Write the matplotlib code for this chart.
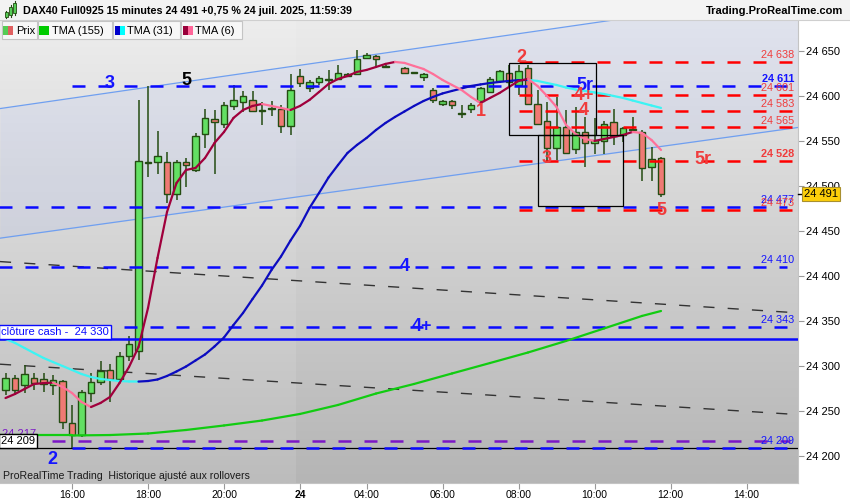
import numpy as np
import matplotlib
matplotlib.use('Agg')
import matplotlib.pyplot as plt
import matplotlib.transforms as mtransforms
from matplotlib.collections import LineCollection
from matplotlib.patches import Rectangle
from matplotlib.colors import LinearSegmentedColormap

plt.rcParams['font.family'] = ['Liberation Sans', 'DejaVu Sans']

# candles are numbered from the 16:00 bar, first visible one is -7
first_bar = -7
opens = [24273, 24287, 24279, 24287, 24286, 24279, 24283, 24237, 24223, 24270,
         24282, 24295, 24285, 24311, 24317, 24526, 24527, 24527, 24491, 24527,
         24518, 24558, 24574, 24569, 24589, 24593, 24596, 24584, 24586, 24585,
         24567, 24622, 24609, 24615, 24618.5, 24618.5, 24624, 24624, 24642, 24644.5,
         24632.5, np.nan, 24631, 24626, 24621, 24607, 24591, 24594.5, 24580, 24585,
         24594, 24604, 24617, 24626, 24612, 24631, 24591, 24572, 24542, 24565,
         24541, 24560.5, 24548, 24550.5, 24571, 24556.5, 24562, 24560.5, 24521.5, 24531]
highs = [24292, 24290, 24301, 24292, 24292, 24290, 24284, 24257, 24273, 24292,
         24305, 24302, 24316, 24333, 24595, 24611, 24561, 24538, 24529, 24531,
         24559, 24585, 24584, 24593, 24612, 24605, 24605, 24593, 24594, 24590,
         24624, 24630, 24618, 24622, 24629, 24634, 24626, 24651, 24648, 24645.5,
         24634, np.nan, 24632, 24626.5, 24625, 24608.5, 24595.5, 24595, 24590, 24592,
         24610.5, 24621.5, 24629, 24634.5, 24634.5, 24634.5, 24606.5, 24593.5, 24599, 24584.5,
         24588, 24577, 24575, 24572.5, 24585, 24566, 24576.5, 24562, 24543.5, 24532]
lows = [24268, 24268, 24270, 24273, 24271, 24268, 24230, 24209, 24221, 24260,
        24279, 24260, 24283, 24306, 24307, 24510, 24513, 24481, 24484, 24499,
        24516, 24542, 24513, 24564, 24584, 24582, 24582, 24568, 24578, 24559,
        24557, 24610, 24604, 24612, 24607, 24618, 24621, 24623, 24641, 24633,
        24631, np.nan, 24624, 24625.5, 24617, 24592.5, 24589, 24585, 24575, 24581.5,
        24592, 24603, 24614, 24608.5, 24601, 24590, 24569, 24527, 24529, 24536,
        24535.5, 24521, 24536, 24536, 24545.5, 24549, 24559, 24505, 24505, 24488]
closes = [24287, 24273, 24291, 24281, 24280, 24284, 24238, 24223, 24271, 24282,
          24294, 24285, 24311, 24324, 24528, 24527, 24533, 24491, 24527, 24523,
          24556, 24575, 24571, 24590, 24596, 24600, 24583, 24583, 24587, 24567,
          24607, 24614, 24615, 24620, 24618, 24626, 24622, 24641, 24645.5, 24641,
          24632, np.nan, 24625, 24626, 24624, 24596, 24594.5, 24590, 24580.5, 24590,
          24608.5, 24618.5, 24628, 24616, 24628, 24591, 24569, 24542.5, 24566, 24537,
          24560.5, 24547.5, 24551, 24569, 24555.5, 24564, 24562.5, 24520, 24529.5, 24491]

tma6 = [24264.4, 24268.9, 24274.4, 24280.0, 24281.0, 24281.5, 24276.7, 24270.0, 24260.0, 24254.4,
        24258.9, 24265.6, 24281.1, 24298.9, 24321.1, 24364.4, 24420.0, 24471.1, 24503.3, 24517.8,
        24520.0, 24531.1, 24547.8, 24560.0, 24575.6, 24584.4, 24588.9, 24591.1, 24588.9, 24586.7,
        24584.4, 24588.9, 24595.6, 24604.4, 24613.3, 24618.9, 24622.2, 24626.7, 24628.9, 24632.2,
        24635.6, 24637.8, 24636.7, 24633.3, 24630.0, 24624.4, 24617.8, 24612.2, 24606.7, 24598.9,
        24592.2, 24597.8, 24603.3, 24610.0, 24616.7, 24618.9, 24611.1, 24600.0, 24587.8, 24567.8,
        24557.8, 24552.2, 24550.0, 24552.2, 24554.4, 24556.7, 24560.0, 24558.9, 24551.1, 24540.0]
tma31 = [24330.0, 24325.6, 24320.0, 24314.4, 24308.9, 24304.4, 24300.0, 24295.6, 24291.1, 24287.8,
         24285.6, 24284.4, 24283.3, 24282.8, 24282.7, 24283.3, 24285.0, 24288.9, 24293.9, 24299.4,
         24306.1, 24312.8, 24321.7, 24331.7, 24345.6, 24358.9, 24374.4, 24389.4, 24406.7, 24421.7,
         24439.4, 24455.6, 24475.6, 24492.2, 24509.4, 24523.3, 24536.7, 24545.6, 24553.3, 24562.2,
         24570.0, 24576.7, 24582.8, 24588.9, 24594.4, 24598.9, 24602.8, 24605.6, 24608.3, 24611.1,
         24612.8, 24614.4, 24615.6, 24616.7, 24617.6, 24617.8, 24616.7, 24614.4, 24612.2, 24609.4,
         24607.2, 24605.6, 24603.9, 24602.2, 24600.0, 24597.8, 24595.0, 24592.2, 24589.4, 24586.7]
tma155_bars = [-8, 0, 4, 8, 12, 16, 20, 24, 28, 32, 36, 40, 44, 48, 52, 56, 60, 62]
tma155 = [24222.8, 24222.8, 24223.3, 24225.0, 24228.9, 24233.9, 24239.4, 24246.7, 24256.7,
          24269.4, 24280.0, 24291.7, 24303.3, 24315.0, 24327.8, 24341.7, 24355.6, 24361.1]

tick_bars = [0, 8, 16, 24, 31, 39, 47, 55, 63, 71]
tick_labels = ['16:00', '18:00', '20:00', '24', '04:00', '06:00', '08:00', '10:00', '12:00', '14:00']
price_ticks = [24200, 24250, 24300, 24350, 24400, 24450, 24500, 24550, 24600, 24650]

# drawn levels
blue_levels = [24611, 24477, 24410, 24343, 24209]
blue_starts = [0, -8, -8, 5.5, 0]
red_levels = [24638, 24601, 24583, 24565, 24528, 24473]
red_start = 47
cash_close = 24330
day_low = 24209
purple_level = 24217
last_price = 24491

# trend lines: price at left and right edge of the chart
channel_up = [24586, 24714]
channel_low = [24442, 24565]
black_up = [24416, 24359]
black_low = [24302, 24246]

level_labels = [('24 638', 24638, '#f03c3c', 'normal'), ('24 611', 24611, '#1414ff', 'bold'),
                ('24 601', 24601, '#f03c3c', 'normal'), ('24 583', 24583, '#f03c3c', 'normal'),
                ('24 565', 24565, '#f03c3c', 'normal'), ('24 528', 24528, '#f03c3c', 'bold'),
                ('24 477', 24477, '#1414ff', 'normal'), ('24 473', 24473, '#f03c3c', 'normal'),
                ('24 410', 24410, '#1414ff', 'normal'), ('24 343', 24343, '#1414ff', 'normal'),
                ('24 209', 24209, '#1414ff', 'normal')]

marks = [('3', 4, 24614, '#1414ff'), ('5', 12, 24617, 'black'), ('2', 47.3, 24643, '#f03c3c'),
         ('1', 43, 24583, '#f03c3c'), ('5r', 54, 24612, '#1414ff'), ('4+', 53.9, 24601, '#f03c3c'),
         ('4', 53.9, 24584, '#f03c3c'), ('3', 50, 24530, '#f03c3c'), ('5r', 66.4, 24529, '#f03c3c'),
         ('5', 62, 24473, '#f03c3c'), ('4', 35, 24411, '#1414ff'), ('4+', 36.8, 24344, '#1414ff'),
         ('2', -2.1, 24196, '#1414ff')]

boxes = [(46.0, 55.16, 24556.7, 24636.7), (49.05, 58.0, 24477.8, 24556.7)]

W, H = 850, 500
def fx(x):
    return x / W
def fy(y):
    return 1 - y / H

fig = plt.figure(figsize=(8.5, 5), dpi=100, facecolor='white')
ax = fig.add_axes([0, fy(483), fx(798), (483 - 20) / H])
x_min, x_max = -7.58, 76.42
y_min, y_max = 24170, 24684.4
ax.set_xlim(x_min, x_max)
ax.set_ylim(y_min, y_max)

grad = np.linspace(0, 1, 256).reshape(-1, 1)
cmap = LinearSegmentedColormap.from_list('bg', ['#b5b5b5', '#ebebeb'])
ax.imshow(grad, extent=[x_min, x_max, y_min, y_max], origin='lower', aspect='auto', cmap=cmap, zorder=0)
ax.axvspan(x_min, 23.6, color='white', alpha=0.1, lw=0, zorder=0.5)

ax.fill_between([x_min, x_max], channel_up, channel_low, color='#a0b4ff', alpha=0.14, lw=0, zorder=1)
ax.plot([x_min, x_max], channel_up, color='#6f9ff0', lw=0.9, zorder=1.5)
ax.plot([x_min, x_max], channel_low, color='#6f9ff0', lw=0.9, zorder=1.5)
for line in (black_up, black_low):
    ax.plot([x_min, x_max], line, color='#333333', lw=1.0, dashes=(8, 9.5), zorder=2)

# candles
bars = np.arange(len(opens)) + first_bar
o = np.array(opens, float)
h = np.array(highs, float)
l = np.array(lows, float)
c = np.array(closes, float)
ok = ~np.isnan(o)
edge = '#244c12'
ax.vlines(bars[ok], l[ok], h[ok], color=edge, lw=1.1, zorder=3)
body_colors = np.where(c[ok] >= o[ok], '#63e063', '#ef7a74')
ax.bar(bars[ok], np.maximum(np.abs(c[ok] - o[ok]), 0.8), bottom=np.minimum(o[ok], c[ok]),
       width=0.7, color=body_colors, edgecolor=edge, linewidth=1.0, zorder=4)

# horizontal levels
line_end = 75.3
dash = (5.2, 5.2)
for lvl, start in zip(blue_levels, blue_starts):
    ax.plot([start, line_end], [lvl, lvl], color='#0a0aff', lw=1.8, dashes=dash, zorder=5)
for lvl in red_levels:
    ax.plot([red_start, 75.9], [lvl, lvl], color='#ff0000', lw=1.8, dashes=dash, zorder=5)
ax.plot([-2.1, 75.6], [purple_level, purple_level], color='#7b16c6', lw=1.8, dashes=dash, zorder=5)
ax.axhline(cash_close, color='#0a0aff', lw=1.8, zorder=5)
ax.axhline(day_low, color='black', lw=0.9, zorder=4.5)

def two_colour_line(xs, ys, up_col, down_col, lw, z=6):
    pts = np.column_stack([xs, ys])
    segs = np.stack([pts[:-1], pts[1:]], axis=1)
    cols = [up_col if s[1, 1] >= s[0, 1] else down_col for s in segs]
    ax.add_collection(LineCollection(segs, colors=cols, linewidths=lw, capstyle='round', zorder=z))

two_colour_line(np.array(tma155_bars, float), tma155, '#11cc11', '#11cc11', 1.6)
two_colour_line(bars.astype(float), tma31, '#0c0cc0', '#3cf4f4', 1.6)
two_colour_line(bars.astype(float), tma6, '#a0003c', '#ff7099', 1.6)

for b0, b1, p0, p1 in boxes:
    ax.add_patch(Rectangle((b0, p0), b1 - b0, p1 - p0, fill=False, ec='black', lw=0.9, zorder=6.5))

for txt, lvl, col, wt in level_labels:
    ax.text(76.05, lvl + 2, txt, color=col, fontsize=7.8, fontweight=wt, ha='right', va='bottom', zorder=7)

for txt, b, p, col in marks:
    ax.text(b, p, txt, color=col, fontsize=13, fontweight='bold', ha='center', va='center', zorder=7)

ax.text(-7.45, cash_close + 2.5, 'clôture cash -  24 330', color='#0a0aff', fontsize=8,
        ha='left', va='bottom', zorder=8,
        bbox=dict(boxstyle='square,pad=0.18', fc='white', ec='#0a0aff', lw=1))
ax.text(-7.4, purple_level + 2, '24 217', color='#7b16c6', fontsize=8, ha='left', va='bottom', zorder=7)
ax.text(-7.45, day_low + 2.5, '24 209', color='black', fontsize=8, ha='left', va='bottom', zorder=8,
        bbox=dict(boxstyle='square,pad=0.18', fc='white', ec='black', lw=1))

# axes
for s in ('top', 'left'):
    ax.spines[s].set_visible(False)
for s in ('right', 'bottom'):
    ax.spines[s].set_color('#c4c4c4')
    ax.spines[s].set_linewidth(0.8)
ax.yaxis.tick_right()
ax.set_yticks(price_ticks)
ax.set_yticklabels([f'{v:,}'.replace(',', ' ') for v in price_ticks])
ax.set_xticks(tick_bars)
ax.set_xticklabels(tick_labels)
ax.tick_params(axis='y', length=4, width=0.8, color='#999999', labelsize=8, pad=2)
ax.tick_params(axis='x', length=4, width=0.8, color='#999999', labelsize=7.5, pad=1)
ax.get_xticklabels()[3].set_fontweight('bold')

trans = mtransforms.blended_transform_factory(ax.transAxes, ax.transData)
ax.plot([1.0, 1.007], [last_price, last_price], color='black', lw=1, transform=trans, clip_on=False, zorder=9)
ax.text(1.0075, last_price, f'{last_price:,}'.replace(',', ' '), transform=trans, fontsize=8,
        ha='left', va='center', clip_on=False, zorder=10,
        bbox=dict(boxstyle='square,pad=0.18', fc='#fdcf0a', ec='#a89030', lw=0.8))

# header
fig.add_artist(Rectangle((0, fy(20)), 1, 20 / H, transform=fig.transFigure, fc='#f3f3f3', ec='none', zorder=5))
fig.add_artist(plt.Line2D([0, 1], [fy(20), fy(20)], transform=fig.transFigure, color='#cfcfcf', lw=0.8, zorder=5))
for cx, top, bot, wt, wb in [(6.3, 12, 17, 11, 18), (10.7, 7, 15, 5, 17), (15, 3, 13, 1, 15)]:
    fig.add_artist(plt.Line2D([fx(cx), fx(cx)], [fy(wt), fy(wb)], transform=fig.transFigure,
                              color=edge, lw=0.8, zorder=6))
    fig.add_artist(Rectangle((fx(cx - 1.5), fy(bot)), fx(3), (bot - top) / H, transform=fig.transFigure,
                             fc='#55cc55', ec=edge, lw=0.6, zorder=7))
fig.text(fx(23), fy(11.5), 'DAX40 Full0925 15 minutes 24 491 +0,75 % 24 juil. 2025, 11:59:39',
         fontsize=7.75, fontweight='bold', va='center', ha='left', zorder=8)
fig.text(fx(843), fy(11.5), 'Trading.ProRealTime.com', fontsize=8, fontweight='bold',
         va='center', ha='right', zorder=8)

# legend tabs
tabs = [(1.7, 36.7, 'Prix', ('#55cc55', '#e06060')),
        (37.7, 111.7, 'TMA (155)', ('#00cc00', '#00cc00')),
        (113, 180, 'TMA (31)', ('#0000cc', '#00ffff')),
        (181, 241.7, 'TMA (6)', ('#99003a', '#ff6699'))]
for x0, x1, name, (c1, c2) in tabs:
    fig.add_artist(Rectangle((fx(x0), fy(39)), fx(x1 - x0), 18 / H, transform=fig.transFigure,
                             fc='#f7f7f7', ec='#c4c4c4', lw=0.8, zorder=5))
    fig.add_artist(Rectangle((fx(x0 + 1.5), fy(35)), fx(5), 9 / H, transform=fig.transFigure,
                             fc=c1, ec='none', zorder=6))
    fig.add_artist(Rectangle((fx(x0 + 6.5), fy(35)), fx(5), 9 / H, transform=fig.transFigure,
                             fc=c2, ec='none', zorder=6))
    fig.text(fx(x0 + 14), fy(30.5), name, fontsize=8, va='center', ha='left', zorder=8)

fig.text(fx(3), fy(476), 'ProRealTime Trading  Historique ajusté aux rollovers', fontsize=7.6,
         va='center', ha='left', color='#1a1a1a', zorder=8)

fig.savefig('out.png', dpi=100, facecolor='white')
